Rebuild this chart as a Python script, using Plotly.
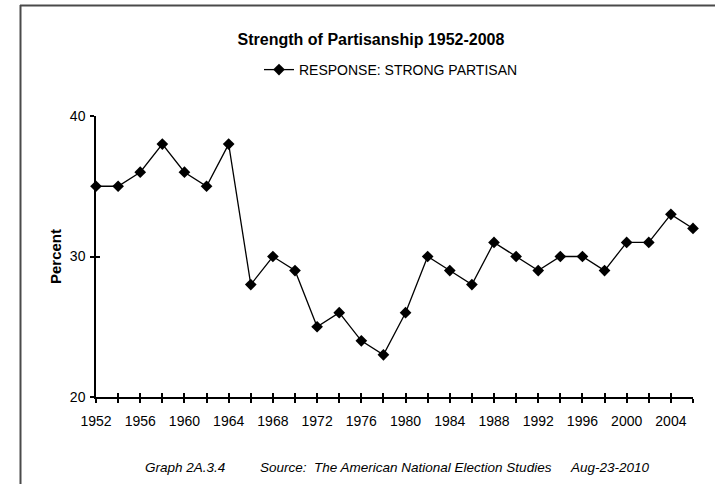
import plotly.graph_objects as go

# ---- data ----
years = ["1952", "1954", "1956", "1958", "1960", "1962", "1964", "1966", "1968",
         "1970", "1972", "1974", "1976", "1978", "1980", "1982", "1984", "1986",
         "1988", "1990", "1992", "1994", "1996", "1998", "2000", "2002", "2004",
         "2008"]
strong_partisan = [35, 35, 36, 38, 36, 35, 38, 28, 30, 29, 25, 26, 24, 23, 26,
                   30, 29, 28, 31, 30, 29, 30, 30, 29, 31, 31, 33, 32]
x_tick_labels = ["1952", "1956", "1960", "1964", "1968", "1972", "1976", "1980",
                 "1984", "1988", "1992", "1996", "2000", "2004"]
y_ticks = [20, 30, 40]
series_name = "RESPONSE: STRONG PARTISAN"
title_text = "Strength of Partisanship 1952-2008"
footer_graph = "Graph 2A.3.4"
footer_source = "Source:  The American National Election Studies"
footer_date = "Aug-23-2010"

# ---- layout geometry ----
W, H = 715, 484
L, R, T, B = 96, 22, 116, 87
PW, PH = W - L - R, H - T - B


def px_x(p):
    return (p - L) / PW


def px_y(p):
    return (H - B - p) / PH


REG = "Liberation Sans, Arial, sans-serif"

ticktext = [y if y in x_tick_labels else "" for y in years]

fig = go.Figure()
fig.add_trace(go.Scatter(
    x=years, y=strong_partisan, name=series_name, mode="lines+markers",
    line=dict(color="black", width=1.3),
    marker=dict(symbol="diamond", size=9, color="black"),
    cliponaxis=False,
))
# invisible copy on overlay axes (for crossing tick marks)
fig.add_trace(go.Scatter(
    x=years, y=strong_partisan, xaxis="x2", yaxis="y2", mode="lines",
    line=dict(color="rgba(0,0,0,0)"), showlegend=False, hoverinfo="skip",
))

axis_font = dict(family=REG, size=14, color="black")

fig.update_layout(
    width=W, height=H,
    margin=dict(l=L, r=R, t=T, b=B),
    paper_bgcolor="white", plot_bgcolor="white",
    title=dict(text=title_text, x=371 / W, xref="container", xanchor="center",
               y=1 - 39 / H, yref="container", yanchor="middle",
               font=dict(family=REG, size=16, color="black", weight="bold")),
    showlegend=True,
    legend=dict(orientation="h", x=px_x(259), xanchor="left",
                y=px_y(70), yanchor="middle",
                font=dict(family=REG, size=14, color="black"),
                bgcolor="rgba(0,0,0,0)"),
    xaxis=dict(type="category", range=[0, len(years) - 1],
               tickmode="array", tickvals=years, ticktext=ticktext,
               ticks="outside", ticklen=4, tickwidth=1.5, tickcolor="black",
               showline=True, linecolor="black", linewidth=1.5,
               showgrid=False, zeroline=False, tickfont=axis_font,
               ticklabelstandoff=6),
    yaxis=dict(range=[20, 40], tickmode="array", tickvals=y_ticks,
               ticks="outside", ticklen=4, tickwidth=1.5, tickcolor="black",
               showline=True, linecolor="black", linewidth=1.5,
               showgrid=False, zeroline=False, tickfont=axis_font,
               ticklabelstandoff=2,
               title=dict(text="Percent", standoff=5,
                          font=dict(family=REG, size=15, color="black",
                                    weight="bold"))),
    xaxis2=dict(type="category", overlaying="x", matches="x", anchor="y2",
                side="bottom", tickmode="array", tickvals=years,
                showticklabels=False, ticks="inside", ticklen=4, tickwidth=1.5,
                tickcolor="black", showline=False, showgrid=False,
                zeroline=False),
    yaxis2=dict(overlaying="y", matches="y", anchor="x2", side="left",
                tickmode="array", tickvals=y_ticks, showticklabels=False,
                ticks="inside", ticklen=4, tickwidth=1.5, tickcolor="black",
                showline=False, showgrid=False, zeroline=False),
)

foot_font = dict(family=REG, size=13.5, color="black", style="italic")
for txt, px in [(footer_graph, 143), (footer_source, 258), (footer_date, 568)]:
    fig.add_annotation(text=txt, xref="paper", yref="paper", x=px_x(px),
                       y=px_y(467), xanchor="left", yanchor="middle",
                       showarrow=False, font=foot_font)

# outer frame (top and left edges visible)
frame = dict(color="#4a4a4a", width=2)
fig.add_shape(type="line", xref="paper", yref="paper",
              x0=px_x(20), x1=px_x(715), y0=px_y(5.5), y1=px_y(5.5), line=frame)
fig.add_shape(type="line", xref="paper", yref="paper",
              x0=px_x(20.5), x1=px_x(20.5), y0=px_y(5), y1=px_y(490), line=frame)

fig.write_html("out.html")
